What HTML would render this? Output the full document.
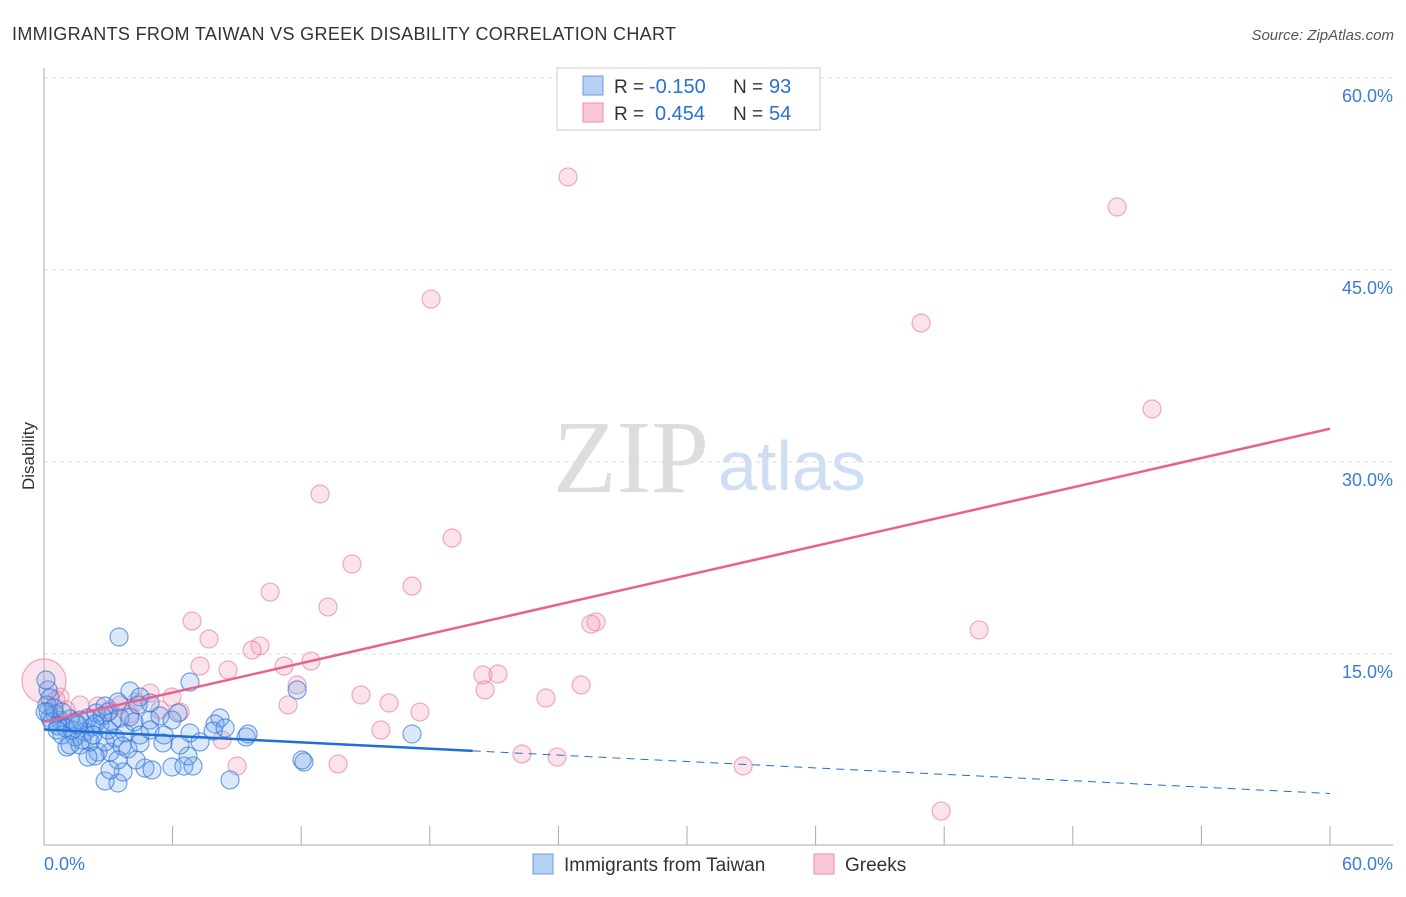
<!DOCTYPE html>
<html><head><meta charset="utf-8"><style>
body{margin:0;background:#fff;font-family:"Liberation Sans",sans-serif}
</style></head><body>
<svg id="chart" width="1406" height="892" xmlns="http://www.w3.org/2000/svg" font-family="Liberation Sans, sans-serif">
<text x="12" y="40" font-size="18" fill="#333" textLength="664">IMMIGRANTS FROM TAIWAN VS GREEK DISABILITY CORRELATION CHART</text>
<text x="1394" y="40" font-size="15" fill="#555" font-style="italic" text-anchor="end">Source: ZipAtlas.com</text>
<text x="34" y="456" font-size="17" fill="#333" text-anchor="middle" transform="rotate(-90 34 456)">Disability</text>
<text x="553" y="492" font-size="104" fill="#ddd" font-family="Liberation Serif, serif">ZIP</text>
<text x="718" y="490" font-size="70" fill="#cfdff3">atlas</text>
<g id="grid"></g>
<g id="axes"></g>
<g id="pts"></g>
<g id="lines"></g>
<g>
<rect x="557" y="68" width="263" height="62" fill="#fff" stroke="#ccc"/>
<rect x="583" y="76" width="20" height="19" fill="#b5d0f3" stroke="#6a9de0"/>
<rect x="583" y="103" width="20" height="19" fill="#f9c6d6" stroke="#e98fab"/>
<text x="614" y="93" font-size="19" fill="#333">R =</text>
<text x="649" y="93" font-size="20" fill="#2a6fd6">-0.150</text>
<text x="733" y="93" font-size="19" fill="#333">N =</text>
<text x="769" y="93" font-size="20" fill="#2a6fd6">93</text>
<text x="614" y="120" font-size="19" fill="#333">R =</text>
<text x="655" y="120" font-size="20" fill="#2a6fd6">0.454</text>
<text x="733" y="120" font-size="19" fill="#333">N =</text>
<text x="769" y="120" font-size="20" fill="#2a6fd6">54</text>
</g>
<g>
<rect x="533" y="854" width="20" height="20" fill="#b5d0f3" stroke="#6a9de0"/>
<text x="564" y="871" font-size="19" fill="#333">Immigrants from Taiwan</text>
<rect x="814" y="854" width="20" height="20" fill="#f9c6d6" stroke="#e98fab"/>
<text x="845" y="871" font-size="19" fill="#333">Greeks</text>
</g>
</svg>
<script>
const yTicks=[15,30,45,60];
const xTickLabels=["0.0%","60.0%"];
const blueX=[3.5,4.01,6.81,11.81,4.48,4.95,6.25,8.21,7.98,17.17,9.43,9.52,6.81,12.13,12.04,8.68,3.45,2.85,3.69,4.71,5.97,6.53,6.95,6.72,5.55,4.48,3.92,3.08,2.52,2.38,1.07,1.68,1.45,1.91,2.24,2.61,3.17,3.55,2.99,2.43,2.05,1.68,1.21,0.75,0.28,0.51,0.84,0.19,0.37,0.65,1.03,1.31,2.15,2.85,3.31,3.78,4.2,4.95,5.41,5.97,6.35,7.28,7.89,8.45,2.85,2.71,3.45,0.19,0.28,0.09,0.14,0.47,1.45,1.77,2.38,2.99,3.64,4.29,5.04,3.45,4.95,5.6,4.01,4.48,0.84,1.21,2.05,3.08,0.05,0.61,1.59,2.29,4.39];
const blueY=[16.33,12.11,12.81,12.19,11.64,11.17,10.39,10,9.53,8.75,8.52,8.75,8.83,6.56,6.72,5.16,4.92,5.08,5.78,6.09,6.17,6.25,6.25,7.03,8.05,8.05,7.58,7.34,7.34,7.03,7.73,7.89,8.52,8.91,9.3,9.45,9.69,10,10.47,10.39,10,9.84,9.92,9.84,10,10.31,10.47,10.47,9.69,9.38,9.22,9.06,8.13,8.13,8.44,8.83,9.69,9.84,10.16,9.84,7.89,8.13,8.98,9.22,10.94,10.16,11.25,12.19,11.56,12.97,11.02,10.78,9.69,8.28,9.53,9.06,7.81,6.72,5.94,6.72,9.06,8.67,10.08,8.67,8.67,7.89,6.95,5.94,10.47,9.06,9.45,8.67,11.02];
const pinkX=[24.45,50.07,18.06,40.92,51.7,12.88,19.04,14.37,17.17,10.55,13.25,6.91,25.76,25.52,7.7,10.08,9.71,43.63,12.46,11.2,8.59,7.28,20.48,21.18,25.06,11.81,20.58,14.79,23.42,16.1,11.39,5.97,4.95,4.29,3.55,2.52,1.68,0.75,0,17.54,8.31,15.72,22.3,23.94,32.62,9.01,13.72,41.86,6.35,5.41,1.03,3.08,4.01,0.56];
const pinkY=[52.27,49.92,42.73,40.86,34.14,27.5,24.06,22.03,20.31,19.84,18.67,17.58,17.5,17.34,16.17,15.63,15.31,16.88,14.45,14.06,13.75,14.06,13.36,13.44,12.58,12.58,12.19,11.8,11.56,11.17,11.02,11.64,11.95,11.25,11.02,10.94,11.02,11.64,12.89,10.47,8.28,9.06,7.19,6.95,6.25,6.25,6.41,2.73,10.47,10.63,10.63,10.63,10.31,11.41];
const blueFit=[9.1,4.1];
const pinkFit=[9.7,32.6];
const NS="http://www.w3.org/2000/svg";
const X=v=>44+v*1286/60, Y=v=>846-v*768/60;
function mk(tag,attrs,parent){const e=document.createElementNS(NS,tag);for(const k in attrs)e.setAttribute(k,attrs[k]);parent.appendChild(e);return e;}
const grid=document.getElementById('grid'),axes=document.getElementById('axes'),pts=document.getElementById('pts'),lines=document.getElementById('lines');
yTicks.forEach(t=>{
 const l=mk('line',{x1:44,x2:1393,y1:Y(t),y2:Y(t),stroke:'#ddd','stroke-dasharray':'4,4'},grid);
 
 
 const tx=mk('text',{x:1393,y:Y(t)+24,'font-size':18,fill:'#3a7bd5','text-anchor':'end'},grid);
 tx.textContent=t.toFixed(1)+'%';
 
 
});
const ax=mk('line',{x1:44,x2:1393,y1:845,y2:845,stroke:'#aaa'},axes);


const ay=mk('line',{x1:44,x2:44,y1:68,y2:845,stroke:'#aaa'},axes);


for(let i=0;i<=10;i++){const t=mk('line',{x1:X(i*6),x2:X(i*6),y1:826,y2:845,stroke:'#aaa'},axes);
 
 }
[[0,'start',X(0)],[1,'end',1393]].forEach(([i,a,x])=>{const t=mk('text',{x:x,y:870,'font-size':18,fill:'#3a7bd5','text-anchor':a},axes);t.textContent=xTickLabels[i];
 
 });
pinkX.forEach((v,i)=>{const c=mk('circle',{cx:X(v),cy:Y(pinkY[i]),r:(v===0?22:9),fill:'rgba(245,160,190,0.3)',stroke:'rgba(230,120,155,0.6)','stroke-width':1.2},pts);
 
 });
blueX.forEach((v,i)=>{const c=mk('circle',{cx:X(v),cy:Y(blueY[i]),r:9,fill:'rgba(110,165,235,0.25)',stroke:'rgba(45,115,215,0.65)','stroke-width':1.2},pts);
 
 });
const pl=mk('line',{x1:X(0),y1:Y(pinkFit[0]),x2:X(60),y2:Y(pinkFit[1]),stroke:'#e8628f','stroke-width':2.5},lines);


const bAt=x=>blueFit[0]+(blueFit[1]-blueFit[0])*x/60;
const bl=mk('line',{x1:X(0),y1:Y(bAt(0)),x2:X(20),y2:Y(bAt(20)),stroke:'#1f6fd8','stroke-width':2.5},lines);


const bd=mk('line',{x1:X(20),y1:Y(bAt(20)),x2:X(60),y2:Y(bAt(60)),stroke:'#1f6fd8','stroke-width':1,'stroke-dasharray':'8,6'},lines);


</script>
</body></html>
